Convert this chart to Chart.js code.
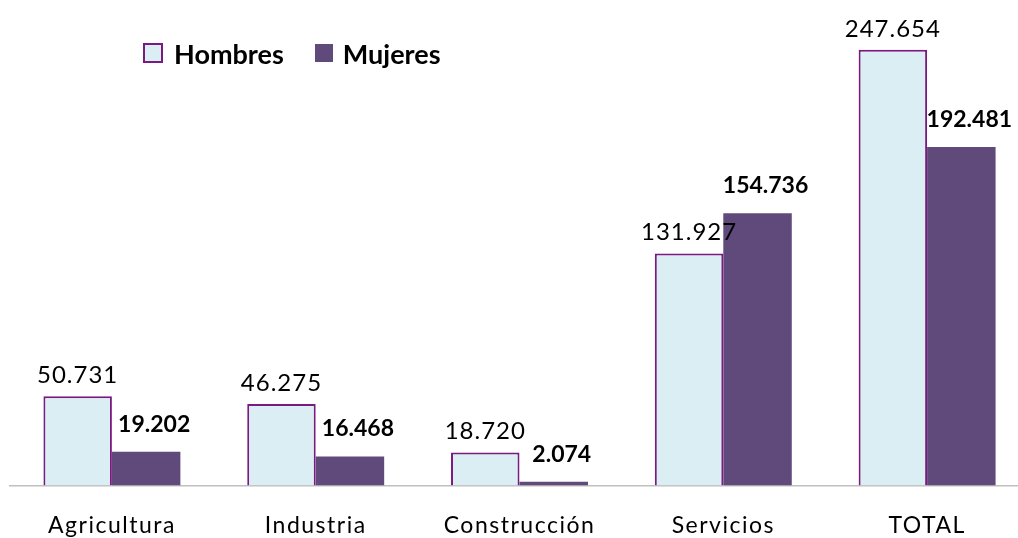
<!DOCTYPE html>
<html>
<head>
<meta charset="utf-8">
<script src="https://cdn.jsdelivr.net/npm/chart.js@4"></script>
<style>
  body { margin: 0; background: #fff; overflow: hidden; }
  #wrap { position: relative; width: 1029px; height: 565px; }
  .legend { position: absolute; top: 33px; left: 143px; font-family: Lato, sans-serif; font-weight: bold; font-size: 27px; color: #000; white-space: nowrap; }
  .legend span { display: inline-block; vertical-align: middle; }
  .box1 { width: 16px; height: 16px; background: #DAEEF3; border: 2px solid #7A1A80; margin-right: 11px; }
  .box2 { width: 18px; height: 18px; background: #604A7B; margin-left: 31px; margin-right: 10px; }
</style>
</head>
<body>
<div id="wrap">
  <canvas id="chart"></canvas>
  <div class="legend">
    <span class="box1"></span><span>Hombres</span><span class="box2"></span><span>Mujeres</span>
  </div>
</div>
<script>
// data
const categories = ['Agricultura', 'Industria', 'Construcción', 'Servicios', 'TOTAL'];
const hombres = [50731, 46275, 18720, 131927, 247654];
const mujeres = [19202, 16468, 2074, 154736, 192481];

// 247654 -> "247.654"
function fmt(v) {
    return String(v).replace(/\B(?=(\d{3})+(?!\d))/g, '.');
}

// value labels above the bars
const valueLabels = {
    id: 'valueLabels',
    afterDatasetsDraw(chart) {
        const ctx = chart.ctx;
        chart.data.datasets.forEach((ds, i) => {
            const meta = chart.getDatasetMeta(i);
            meta.data.forEach((bar, j) => {
                ctx.save();
                ctx.fillStyle = '#000';
                ctx.textAlign = 'center';
                ctx.textBaseline = 'alphabetic';
                if (i === 0) {
                    ctx.font = '24px Lato';
                    ctx.letterSpacing = '1px';
                    ctx.fillText(fmt(ds.data[j]), bar.x, bar.y - 13);
                } else {
                    ctx.font = 'bold 23px Lato';
                    ctx.letterSpacing = '0px';
                    ctx.fillText(fmt(ds.data[j]), bar.x + 8, bar.y - 20);
                }
                ctx.restore();
            });
        });
    }
};

// spaced out category labels like the original
const spacing = {
    id: 'spacing',
    beforeDraw(chart) { chart.ctx.letterSpacing = '1.5px'; },
    afterDraw(chart) { chart.ctx.letterSpacing = '0px'; }
};

new Chart(document.getElementById('chart'), {
    type: 'bar',
    data: {
        labels: categories,
        datasets: [{
            label: 'Hombres',
            data: hombres,
            backgroundColor: '#DAEEF3',
            borderColor: '#7A1A80',
            borderWidth: 2
        }, {
            label: 'Mujeres',
            data: mujeres,
            backgroundColor: '#604A7B',
            borderWidth: 0
        }]
    },
    options: {
        responsive: true,
        maintainAspectRatio: false,
        animation: false,
        layout: { padding: { left: 10, right: 0, top: 0, bottom: 0 } },
        datasets: { bar: { categoryPercentage: 0.672, barPercentage: 1 } },
        plugins: {
            legend: { display: false },
            tooltip: { enabled: false }
        },
        scales: {
            x: {
                grid: { display: false, drawTicks: false },
                border: { display: true, color: '#BFBFBF', width: 1.5 },
                ticks: {
                    color: '#000',
                    padding: 26,
                    font: { family: 'Lato', size: 23 }
                }
            },
            y: {
                display: false,
                min: 0,
                max: 276000
            }
        }
    },
    plugins: [valueLabels, spacing]
});
</script>
</body>
</html>
